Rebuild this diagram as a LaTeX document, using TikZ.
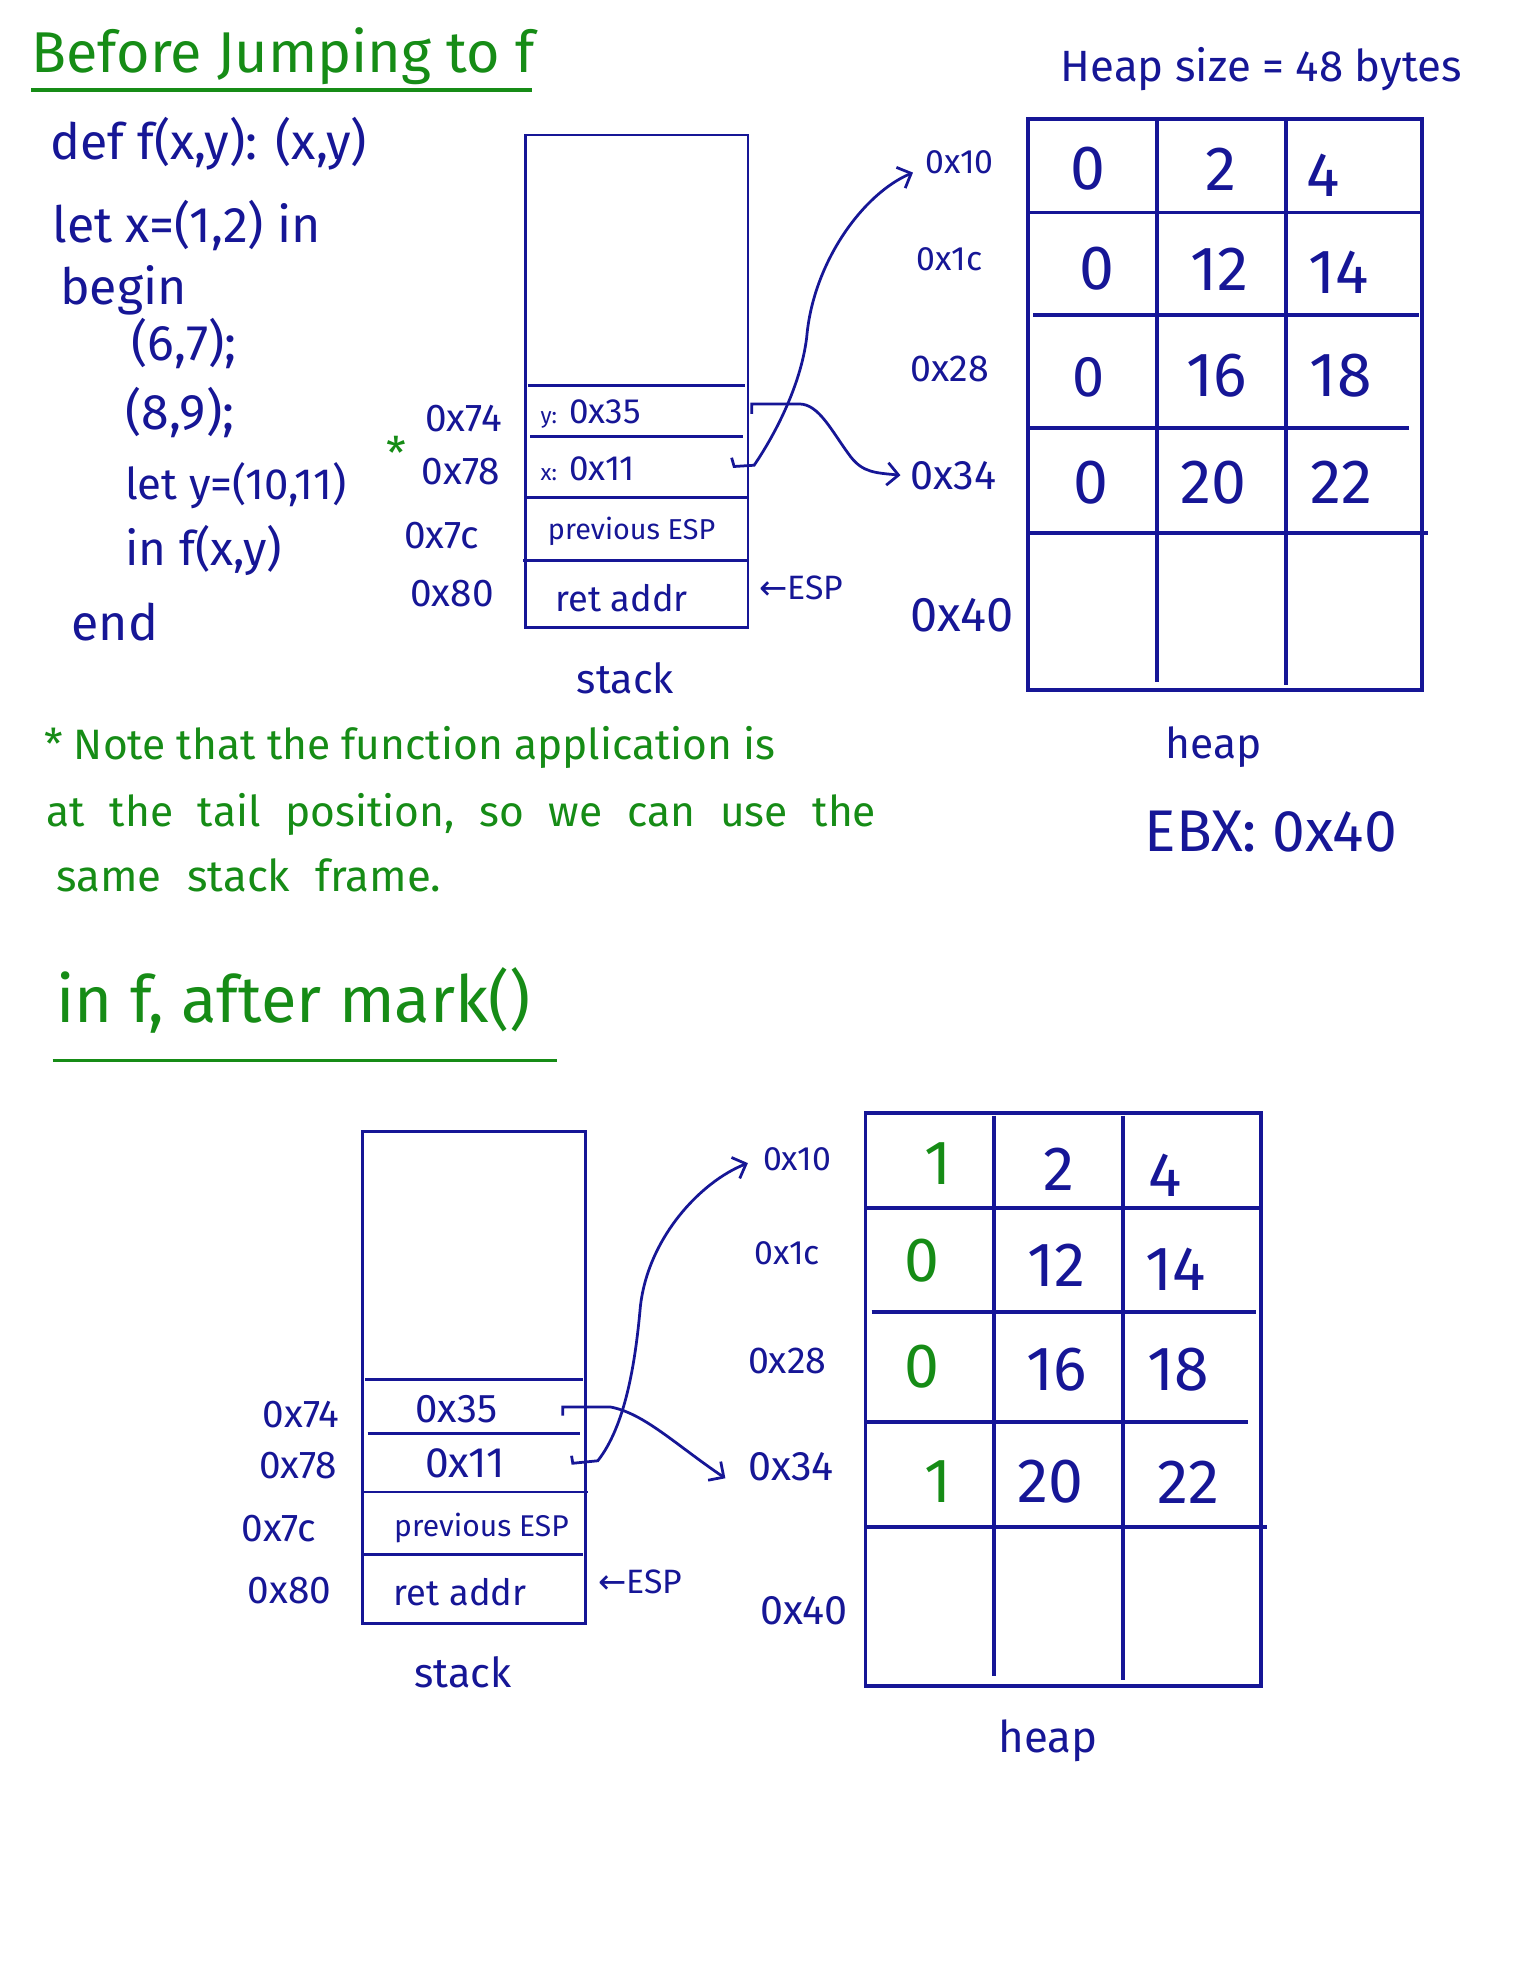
\documentclass[tikz,border=0pt]{standalone}
\usepackage{fontspec}
\setmainfont{Fira Sans}
\newfontfamily\symfont{DejaVu Sans}
\newfontfamily\widefont[WordSpace=2.2]{Fira Sans}
\usetikzlibrary{arrows.meta}
\definecolor{ink}{RGB}{22,22,150}
\definecolor{grn}{RGB}{22,140,22}
\newcommand\myfs[1]{\fontsize{#1}{#1}\selectfont}
\begin{document}
\begin{tikzpicture}[x=1pt,y=-1pt,
 txt/.style={text=ink, inner sep=0pt, anchor=west},
 gtxt/.style={text=grn, inner sep=0pt, anchor=west},
 ctxt/.style={text=ink, inner sep=0pt, anchor=center},
 stk/.style={draw=ink, line width=2.2pt},
 hp/.style={draw=ink, line width=3pt},
 conn/.style={draw=ink, line width=2.2pt, -{Straight Barb[length=9pt,width=18pt,line width=2.2pt]}},
 ]
\fill[white] (0,0) rectangle (1229,1568);
\useasboundingbox (0,0) rectangle (1229,1568);

% ---------- top section ----------
\node[gtxt, font=\myfs{46}] (title1) at (25,45) {Before Jumping to f};
\draw[grn, line width=2.5pt] (25,72) -- (425,72);

\node[txt, font=\myfs{40}] (c1) at (40,115) {def f(x,y): (x,y)};
\node[txt, font=\myfs{40}] (c2) at (42,180) {let x=(1,2) in};
\node[txt, font=\myfs{40}] (c3) at (48,232) {begin};
\node[txt, font=\myfs{40}] (c4) at (105,275) {(6,7);};
\node[txt, font=\myfs{40}] (c5) at (100,330) {(8,9);};
\node[txt, font=\myfs{35}] (c6) at (100,388) {let y=(10,11)};
\node[txt, font=\myfs{38}] (c7) at (100,440) {in f(x,y)};
\node[txt, font=\myfs{40}] (c8) at (57,497) {end};

% stack (top)
\draw[stk] (420,108) rectangle (598,502);
\draw[stk] (422,308) -- (596,308);
\draw[stk] (424,349) -- (594,349);
\draw[stk] (420,398) -- (598,398);
\draw[stk] (418,448) -- (598,448);
\node[txt, font=\myfs{28}] (ys) at (432,331) {{\myfs{18}y:} 0x35};
\node[txt, font=\myfs{28}] (xs) at (432,375) {{\myfs{18}x:} 0x11};
\node[ctxt, font=\myfs{23}] (pe1) at (505,425) {previous ESP};
\node[ctxt, font=\myfs{29}] (ra1) at (497,478) {ret addr};
\node[txt, font=\myfs{31}] (a74) at (340,335) {0x74};
\node[txt, font=\myfs{31}] (a78) at (337,377) {0x78};
\node[txt, font=\myfs{31}] (a7c) at (323,428) {0x7c};
\node[txt, font=\myfs{31}] (a80) at (328,475) {0x80};
\node[text=grn, inner sep=0pt, font=\myfs{36}] (star) at (317,362) {*};
\node[txt, font=\myfs{27}] (esp1) at (607,470) {{\symfont ←}ESP};
\node[ctxt, font=\myfs{33}] (stk1) at (500,542) {stack};

% heap (top)
\draw[hp] (822,95) rectangle (1137,552);
\draw[hp] (925,97) -- (925,545);
\draw[hp] (1028,97) -- (1028,548);
\draw[hp] (822,170) -- (1137,170);
\draw[hp] (826,252) -- (1135,252);
\draw[hp] (822,342) -- (1127,342);
\draw[hp] (822,426) -- (1142,426);
\node[txt, font=\myfs{35}] (hs) at (848,55) {Heap size = 48 bytes};
\node[ctxt, font=\myfs{50}] (v11) at (870,135) {0};
\node[ctxt, font=\myfs{50}] (v12) at (976,135) {2};
\node[ctxt, font=\myfs{50}] (v13) at (1058,140) {4};
\node[ctxt, font=\myfs{50}] (v21) at (877,215) {0};
\node[ctxt, font=\myfs{50}] (v22) at (975,215) {12};
\node[ctxt, font=\myfs{50}] (v23) at (1070,218) {14};
\node[ctxt, font=\myfs{46}] (v31) at (870,302) {0};
\node[ctxt, font=\myfs{50}] (v32) at (973,300) {16};
\node[ctxt, font=\myfs{50}] (v33) at (1072,300) {18};
\node[ctxt, font=\myfs{50}] (v41) at (872,386) {0};
\node[ctxt, font=\myfs{50}] (v42) at (970,386) {20};
\node[ctxt, font=\myfs{50}] (v43) at (1073,386) {22};
\node[txt, font=\myfs{27}] (t10) at (740,130) {0x10};
\node[txt, font=\myfs{27}] (t1c) at (733,207) {0x1c};
\node[txt, font=\myfs{30}] (t28) at (728,295) {0x28};
\node[txt, font=\myfs{33}] (t34) at (728,380) {0x34};
\node[txt, font=\myfs{39}] (t40) at (728,492) {0x40};
\node[txt, font=\myfs{34}] (hp1) at (932,597) {heap};
\node[txt, font=\myfs{47}] (ebx) at (915,665) {EBX: 0x40};

% connectors (top)
\coordinate (yh) at (601,331);
\draw[conn] (yh) -- ++(0,-8) -- ++(38,0) .. controls (655,323) and (665,345) .. (680,365) .. controls (690,378) and (700,378) .. ([xshift=-8pt]t34.west);
\coordinate (xh) at (585,366);
\draw[conn] (xh) -- ++(2,7) -- ++(16,-1) .. controls (618,350) and (640,310) .. (645,270) .. controls (650,210) and (690,155) .. ([xshift=-10pt,yshift=-8pt]t10.west);

% note
\node[gtxt, font=\myfs{34}] (n1) at (35,598) {* Note that the function application is};
\node[gtxt, font=\widefont\myfs{34}] (n2) at (37,651) {at the tail position, so we can use the};
\node[gtxt, font=\widefont\myfs{35}] (n3) at (45,700) {same stack frame.};

% ---------- bottom section ----------
\node[gtxt, font=\myfs{52}] (title2) at (45,800) {in f, after mark()};
\draw[grn, line width=2.5pt] (42,848) -- (445,848);

% stack (bottom)
\draw[stk] (290,905) rectangle (468,1298);
\draw[stk] (292,1103) -- (466,1103);
\draw[stk] (294,1146) -- (464,1146);
\draw[stk] (290,1193) -- (470,1193);
\draw[stk] (290,1243) -- (466,1243);
\node[ctxt, font=\myfs{32}] (s35) at (365,1127) {0x35};
\node[ctxt, font=\myfs{34}] (s11) at (372,1170) {0x11};
\node[ctxt, font=\myfs{24}] (pe2) at (385,1222) {previous ESP};
\node[ctxt, font=\myfs{29}] (ra2) at (368,1273) {ret addr};
\node[txt, font=\myfs{31}] (b74) at (210,1131) {0x74};
\node[txt, font=\myfs{31}] (b78) at (207,1172) {0x78};
\node[txt, font=\myfs{31}] (b7c) at (193,1222) {0x7c};
\node[txt, font=\myfs{31}] (b80) at (198,1272) {0x80};
\node[txt, font=\myfs{27}] (esp2) at (478,1265) {{\symfont ←}ESP};
\node[ctxt, font=\myfs{33}] (stk2) at (370,1337) {stack};

% heap (bottom)
\draw[hp] (692,890) rectangle (1008,1348);
\draw[hp] (795,892) -- (795,1340);
\draw[hp] (898,892) -- (898,1343);
\draw[hp] (692,966) -- (1008,966);
\draw[hp] (697,1049) -- (1004,1049);
\draw[hp] (692,1137) -- (998,1137);
\draw[hp] (692,1221) -- (1013,1221);
\node[ctxt, font=\myfs{50}, text=grn] (w11) at (750,930) {1};
\node[ctxt, font=\myfs{50}] (w12) at (847,935) {2};
\node[ctxt, font=\myfs{50}] (w13) at (932,940) {4};
\node[ctxt, font=\myfs{50}, text=grn] (w21) at (737,1008) {0};
\node[ctxt, font=\myfs{50}] (w22) at (845,1012) {12};
\node[ctxt, font=\myfs{50}] (w23) at (940,1015) {14};
\node[ctxt, font=\myfs{50}, text=grn] (w31) at (737,1093) {0};
\node[ctxt, font=\myfs{50}] (w32) at (845,1095) {16};
\node[ctxt, font=\myfs{50}] (w33) at (942,1095) {18};
\node[ctxt, font=\myfs{50}, text=grn] (w41) at (750,1185) {1};
\node[ctxt, font=\myfs{50}] (w42) at (840,1185) {20};
\node[ctxt, font=\myfs{50}] (w43) at (950,1185) {22};
\node[txt, font=\myfs{27}] (b10) at (610,927) {0x10};
\node[txt, font=\myfs{27}] (b1c) at (603,1002) {0x1c};
\node[txt, font=\myfs{30}] (b28) at (598,1088) {0x28};
\node[txt, font=\myfs{33}] (b34) at (598,1173) {0x34};
\node[txt, font=\myfs{33}] (b40) at (608,1288) {0x40};
\node[ctxt, font=\myfs{35}] (hp2) at (838,1392) {heap};

% connectors (bottom)
\coordinate (b35h) at (450,1132);
\draw[conn] (b35h) -- ++(0,-7) -- ++(38,0) .. controls (515,1130) and (540,1155) .. ([xshift=-18pt,yshift=-9pt]b34.west);
\coordinate (b11h) at (457,1164);
\draw[conn] (b11h) -- ++(1,6) -- ++(20,-2) .. controls (500,1140) and (508,1090) .. (512,1045) .. controls (518,990) and (560,945) .. ([xshift=-12pt,yshift=-3pt]b10.west);
\end{tikzpicture}
\end{document}
